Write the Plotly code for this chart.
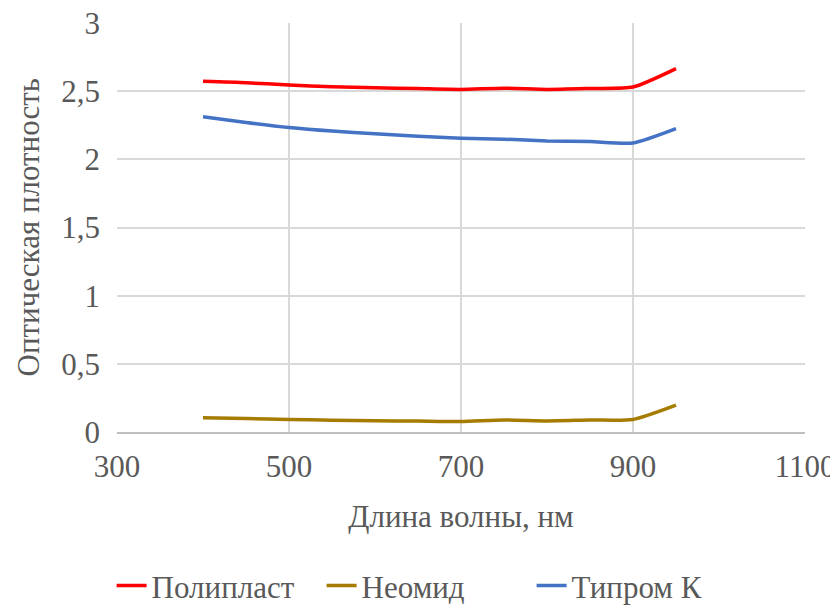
import plotly.graph_objects as go

wavelength = [400, 450, 500, 550, 600, 650, 700, 750, 800, 850, 900, 950]
poliplast = [2.572, 2.562, 2.545, 2.532, 2.525, 2.519, 2.513, 2.522, 2.513, 2.52, 2.53, 2.665]
neomid = [0.105, 0.099, 0.092, 0.087, 0.083, 0.08, 0.077, 0.088, 0.081, 0.088, 0.092, 0.197]
tiprom = [2.312, 2.27, 2.233, 2.207, 2.188, 2.17, 2.155, 2.148, 2.135, 2.13, 2.12, 2.225]

series = [("Полипласт", poliplast, "#FF0000"),
          ("Неомид", neomid, "#A57C00"),
          ("Типром К", tiprom, "#4472C4")]

x_ticks = [300, 500, 700, 900, 1100]
y_ticks = [0, 0.5, 1, 1.5, 2, 2.5, 3]
y_labels = ["0", "0,5", "1", "1,5", "2", "2,5", "3"]
y_title = "Оптическая плотность"
x_title = "Длина волны, нм"

font = "Liberation Serif, Times New Roman, serif"
gray = "#595959"
fs = 31

fig = go.Figure()
for name, vals, color in series:
    fig.add_trace(go.Scatter(x=wavelength, y=vals, name=name, mode="lines",
                             line=dict(color=color, width=3.5, shape="spline", smoothing=0.6)))

fig.add_annotation(text=y_title, xref="paper", yref="paper", x=-0.128, y=0.5,
                   xanchor="center", yanchor="middle", textangle=-90, showarrow=False,
                   font=dict(family=font, size=fs, color=gray))

fig.update_layout(
    width=830, height=602,
    margin=dict(l=109, r=33, t=15, b=178, autoexpand=False),
    paper_bgcolor="white", plot_bgcolor="white",
    font=dict(family=font, size=fs, color=gray),
    legend=dict(orientation="h", x=0.45, xanchor="center", y=-0.31, yanchor="top",
                font=dict(family=font, size=fs, color=gray),
                entrywidth=165, tracegroupgap=0),
    xaxis=dict(range=[300, 1100], tickvals=x_ticks, showgrid=True, gridcolor="#D9D9D9",
               gridwidth=2, zeroline=False, showline=True, linecolor="#BFBFBF", linewidth=2,
               ticks="", automargin=False, ticklabelstandoff=6, ticklabeloverflow="allow",
               title=dict(text=x_title, font=dict(family=font, size=fs, color=gray), standoff=22),
               tickfont=dict(family=font, size=fs, color=gray)),
    yaxis=dict(range=[0, 3], tickvals=y_ticks, ticktext=y_labels, showgrid=True,
               gridcolor="#D9D9D9", gridwidth=2, zeroline=False, showline=False, ticks="",
               automargin=False, ticklabelstandoff=16, ticklabeloverflow="allow",
               tickfont=dict(family=font, size=fs, color=gray)),
)

fig.write_html("out.html")
